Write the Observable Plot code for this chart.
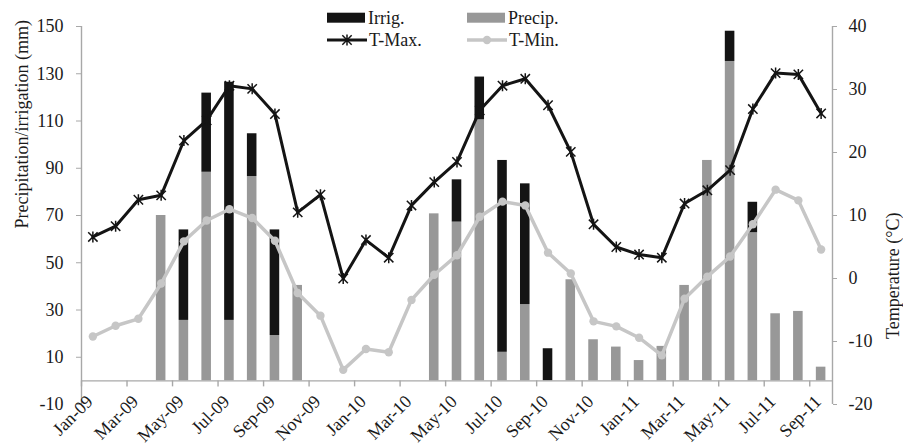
<!DOCTYPE html>
<html>
<head>
<meta charset="utf-8">
<script src="https://cdn.jsdelivr.net/npm/d3@7"></script>
<script src="https://cdn.jsdelivr.net/npm/@observablehq/plot@0.6"></script>
<style>
  body { margin: 0; background: #fff; }
  #chart { position: relative; width: 903px; height: 445px; font-family: "Liberation Serif", serif; }
  #legend { position: absolute; left: 0; top: 0; pointer-events: none; }
</style>
</head>
<body>
<div id="chart"></div>
<script>
// ---------- data ----------
const months = [
  "Jan-09","Feb-09","Mar-09","Apr-09","May-09","Jun-09","Jul-09","Aug-09","Sep-09","Oct-09","Nov-09","Dec-09",
  "Jan-10","Feb-10","Mar-10","Apr-10","May-10","Jun-10","Jul-10","Aug-10","Sep-10","Oct-10","Nov-10","Dec-10",
  "Jan-11","Feb-11","Mar-11","Apr-11","May-11","Jun-11","Jul-11","Aug-11","Sep-11"
];
const precip = [
  0, 0, 0, 70, 25.6, 88.3, 25.6, 86.5, 19.2, 40.4, 0, 0,
  0, 0, 0, 70.7, 67.2, 110.5, 12.1, 32.3, 0, 42.8, 17.4, 14.3,
  8.6, 14.6, 40.4, 93.3, 135.2, 62.7, 28.4, 29.4, 5.8
];
const irrig = [
  0, 0, 0, 0, 38.3, 33.5, 100.8, 18.1, 44.7, 0, 0, 0,
  0, 0, 0, 0, 17.9, 18.1, 81.2, 51.1, 13.6, 0, 0, 0,
  0, 0, 0, 0, 12.8, 12.9, 0, 0, 0
];
const tMax = [
  6.6, 8.3, 12.5, 13.2, 21.9, 25.1, 30.6, 30.1, 26.1, 10.5, 13.3, 0.0,
  6.1, 3.3, 11.6, 15.3, 18.5, 26.7, 30.6, 31.7, 27.5, 20.1, 8.6, 5.0,
  3.8, 3.3, 11.9, 14.0, 17.2, 26.9, 32.6, 32.4, 26.2
];
const tMin = [
  -9.2, -7.5, -6.4, -0.8, 5.9, 9.2, 11.0, 9.6, 6.0, -2.3, -5.9, -14.5,
  -11.2, -11.7, -3.4, 0.6, 3.7, 9.8, 12.2, 11.6, 4.1, 0.8, -6.8, -7.6,
  -9.4, -12.2, -3.2, 0.3, 3.5, 8.6, 14.1, 12.4, 4.6
];
const leftTicks = [-10, 10, 30, 50, 70, 90, 110, 130, 150];
const rightTicks = [-20, -10, 0, 10, 20, 30, 40];
const leftTitle = "Precipitation/irrigation (mm)";
const rightTitle = "Temperature (\u00B0C)";
const legendItems = [
  {label: "Irrig.", kind: "bar", color: "#141414"},
  {label: "Precip.", kind: "bar", color: "#989898"},
  {label: "T-Max.", kind: "star", color: "#141414"},
  {label: "T-Min.", kind: "dot", color: "#c6c6c6"}
];

// ---------- scales helpers ----------
const pLo = leftTicks[0], pHi = leftTicks[leftTicks.length - 1];
const tLo = rightTicks[0], tHi = rightTicks[rightTicks.length - 1];
const toMm = t => pLo + (t - tLo) * (pHi - pLo) / (tHi - tLo);
const toT = v => tLo + (v - pLo) * (tHi - tLo) / (pHi - pLo);

const rows = months.map((m, i) => ({
  i, month: m, precip: precip[i], irrig: irrig[i], tmax: toMm(tMax[i]), tmin: toMm(tMin[i])
}));
const tickIdx = months.map((m, i) => i).filter(i => i % 2 === 0);
const labelIdx = tickIdx;

const BLACK = "#141414", GRAY = "#989898", LIGHT = "#c6c6c6", AXIS = "#a8a8a8";

const asterisk = {
  draw(ctx, size) {
    const r = Math.sqrt(size / Math.PI);
    const d = r * 0.85;
    ctx.moveTo(0, -r); ctx.lineTo(0, r);
    ctx.moveTo(-d, -d); ctx.lineTo(d, d);
    ctx.moveTo(-d, d); ctx.lineTo(d, -d);
  }
};

const cx = d => d.i + 0.5;

const plot = Plot.plot({
  width: 903,
  height: 445,
  marginLeft: 81,
  marginRight: 71,
  marginTop: 26,
  marginBottom: 41,
  x: {domain: [0, months.length], axis: null},
  y: {domain: [pLo, pHi], axis: null},
  style: {fontFamily: '"Liberation Serif", serif', fontSize: "18px", color: "#1a1a1a", background: "#fff"},
  marks: [
    Plot.rectY(rows.filter(d => d.precip > 0), {
      x1: "i", x2: d => d.i + 1, y1: 0, y2: "precip", fill: GRAY, insetLeft: 6.6, insetRight: 6.6
    }),
    Plot.rectY(rows.filter(d => d.irrig > 0), {
      x1: "i", x2: d => d.i + 1, y1: "precip", y2: d => d.precip + d.irrig, fill: BLACK, insetLeft: 6.6, insetRight: 6.6
    }),
    Plot.ruleY([0], {stroke: AXIS, strokeWidth: 1.4}),
    Plot.ruleX([0, months.length], {stroke: AXIS, strokeWidth: 1.4}),
    Plot.ruleX(tickIdx, {x: d => d, y1: 0, y2: 0, insetBottom: -6, stroke: AXIS, strokeWidth: 1.4}),
    Plot.axisY(leftTicks, {
      anchor: "left", tickSize: 5, tickPadding: 13, tickFormat: d => String(d),
      stroke: AXIS, fill: "#1a1a1a", label: null
    }),
    Plot.axisY(rightTicks.map(toMm), {
      anchor: "right", tickSize: 4, tickPadding: 12, tickFormat: v => String(Math.round(toT(v))),
      stroke: AXIS, fill: "#1a1a1a", label: null
    }),
    Plot.text(labelIdx, {
      x: i => i + 0.5, text: i => months[i], frameAnchor: "bottom",
      rotate: -45, textAnchor: "end", lineAnchor: "middle", dy: -6, dx: -3, fill: "#1a1a1a"
    }),
    Plot.text([leftTitle], {text: d => d, frameAnchor: "left", rotate: -90, dx: -59, dy: 13, fill: "#1a1a1a"}),
    Plot.text([rightTitle], {text: d => d, frameAnchor: "right", rotate: -90, dx: 61, dy: -3, fill: "#1a1a1a"}),
    Plot.line(rows, {x: cx, y: "tmin", stroke: LIGHT, strokeWidth: 3.5}),
    Plot.dot(rows, {x: cx, y: "tmin", r: 4.2, fill: LIGHT}),
    Plot.line(rows, {x: cx, y: "tmax", stroke: BLACK, strokeWidth: 3}),
    Plot.dot(rows, {x: cx, y: "tmax", symbol: asterisk, r: 5.5, fill: "none", stroke: BLACK, strokeWidth: 1.5})
  ]
});
document.getElementById("chart").appendChild(plot);

// ---------- legend ----------
const legend = d3.select("#chart").append("svg")
  .attr("id", "legend").attr("width", 903).attr("height", 52)
  .style("font-family", '"Liberation Serif", serif').style("font-size", "18px");
const colX = [327, 467], rowY = [17.7, 40];
legendItems.forEach((it, k) => {
  const x0 = colX[k % 2], y0 = rowY[Math.floor(k / 2)];
  const g = legend.append("g").attr("transform", `translate(${x0},${y0})`);
  if (it.kind === "bar") {
    g.append("rect").attr("x", 0).attr("y", -5).attr("width", 38).attr("height", 10).attr("fill", it.color);
  } else {
    g.append("line").attr("x1", 0).attr("x2", 40).attr("y1", 0).attr("y2", 0)
      .attr("stroke", it.color).attr("stroke-width", it.kind === "dot" ? 3.5 : 3);
    if (it.kind === "dot") {
      g.append("circle").attr("cx", 20).attr("cy", 0).attr("r", 4.2).attr("fill", it.color);
    } else {
      g.append("path").attr("transform", "translate(20,0)")
        .attr("d", d3.symbol(asterisk, Math.PI * 5.5 * 5.5)())
        .attr("fill", "none").attr("stroke", it.color).attr("stroke-width", 1.5);
    }
  }
  g.append("text").attr("x", it.kind === "bar" ? 41 : 42).attr("y", 0).attr("dy", "0.36em")
    .attr("fill", "#1a1a1a").text(it.label);
});
</script>
</body>
</html>
